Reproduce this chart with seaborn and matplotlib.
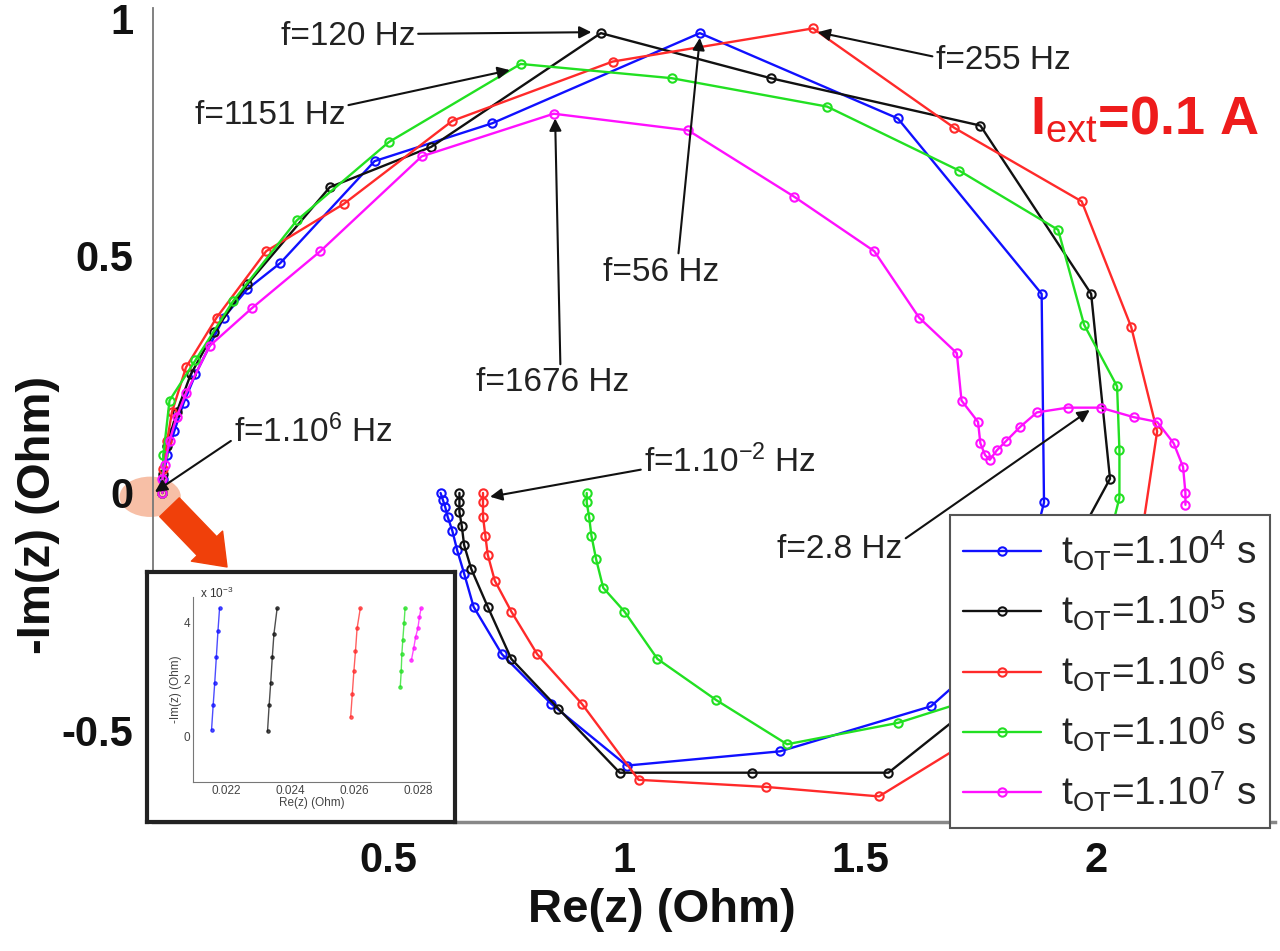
import numpy as np
import pandas as pd
import matplotlib
matplotlib.use("Agg")
import matplotlib.pyplot as plt
from matplotlib.patches import Ellipse
import seaborn as sns

# -----------------------------
# Data (Re, -Im in Ohm), high -> low frequency
# -----------------------------
blue_re = [0.02, 0.022, 0.03, 0.045, 0.065, 0.09, 0.15, 0.20, 0.27, 0.47, 0.72, 1.16, 1.58, 1.885, 1.89,
           1.82, 1.65, 1.33, 1.005, 0.845, 0.74, 0.68, 0.66, 0.645, 0.635, 0.625, 0.62, 0.615, 0.61]
blue_im = [0.0, 0.03, 0.08, 0.13, 0.19, 0.25, 0.37, 0.43, 0.485, 0.70, 0.78, 0.97, 0.79, 0.42, -0.02,
           -0.30, -0.45, -0.545, -0.575, -0.445, -0.34, -0.24, -0.17, -0.12, -0.08, -0.05, -0.03, -0.015, 0.0]

black_re = [0.02, 0.022, 0.03, 0.05, 0.08, 0.13, 0.20, 0.375, 0.59, 0.95, 1.31, 1.755, 1.99, 2.03, 1.97,
            1.80, 1.56, 1.27, 0.99, 0.86, 0.76, 0.71, 0.675, 0.66, 0.655, 0.65, 0.65, 0.65]
black_im = [0.0, 0.04, 0.10, 0.17, 0.25, 0.34, 0.44, 0.645, 0.73, 0.97, 0.875, 0.775, 0.42, 0.03, -0.08,
            -0.40, -0.59, -0.59, -0.59, -0.455, -0.35, -0.24, -0.16, -0.11, -0.07, -0.04, -0.02, 0.0]

red_re = [0.02, 0.022, 0.03, 0.04, 0.07, 0.135, 0.24, 0.405, 0.635, 0.975, 1.40, 1.70, 1.97, 2.075, 2.13,
          2.10, 1.90, 1.54, 1.30, 1.03, 0.91, 0.815, 0.76, 0.725, 0.71, 0.705, 0.70, 0.70, 0.70]
red_im = [0.0, 0.05, 0.11, 0.17, 0.265, 0.37, 0.51, 0.61, 0.785, 0.91, 0.98, 0.77, 0.615, 0.35, 0.13,
          -0.07, -0.42, -0.64, -0.62, -0.605, -0.445, -0.34, -0.25, -0.185, -0.13, -0.09, -0.05, -0.02, 0.0]

green_re = [0.02, 0.022, 0.035, 0.09, 0.17, 0.305, 0.50, 0.78, 1.10, 1.43, 1.71, 1.92, 1.975, 2.045, 2.05,
            2.05, 2.035, 1.85, 1.58, 1.345, 1.195, 1.07, 1.0, 0.955, 0.94, 0.93, 0.925, 0.92, 0.92]
green_im = [0.0, 0.08, 0.195, 0.28, 0.405, 0.575, 0.74, 0.905, 0.875, 0.815, 0.68, 0.555, 0.355, 0.225, 0.09,
            -0.01, -0.07, -0.40, -0.485, -0.53, -0.437, -0.35, -0.25, -0.2, -0.14, -0.09, -0.05, -0.02, 0.0]

mag_re = [0.02, 0.02, 0.025, 0.035, 0.05, 0.07, 0.12, 0.21, 0.355, 0.57, 0.85, 1.135, 1.36, 1.53, 1.625,
          1.705, 1.715, 1.75, 1.755, 1.765, 1.775, 1.79, 1.81, 1.84, 1.875, 1.94, 2.01, 2.08, 2.13,
          2.165, 2.185, 2.19, 2.19]
mag_im = [0.0, 0.03, 0.06, 0.11, 0.16, 0.21, 0.31, 0.39, 0.51, 0.71, 0.80, 0.765, 0.625, 0.51, 0.37,
          0.295, 0.195, 0.15, 0.105, 0.08, 0.07, 0.09, 0.11, 0.14, 0.17, 0.18, 0.18, 0.16, 0.15,
          0.105, 0.055, 0.0, -0.025]

series_labels = [r"t$_{\rm OT}$=1.10$^{\rm 4}$ s", r"t$_{\rm OT}$=1.10$^{\rm 5}$ s",
                 r"t$_{\rm OT}$=1.10$^{\rm 6}$ s", r"t$_{\rm OT}$=1.10$^{\rm 6}$ s",
                 r"t$_{\rm OT}$=1.10$^{\rm 7}$ s"]
series_colors = ["#1010ff", "#111111", "#ff2a2a", "#22e022", "#ff10ff"]

# inset: zoom on the high frequency end
ins_blue_re = [0.02155, 0.0216, 0.02165, 0.0217, 0.02175, 0.0218]
ins_blue_im = [0.00025, 0.0011, 0.0019, 0.0028, 0.0037, 0.0045]
ins_black_re = [0.0233, 0.02335, 0.0234, 0.02345, 0.0235, 0.0236]
ins_black_im = [0.0002, 0.0011, 0.0019, 0.0028, 0.0036, 0.0045]
ins_red_re = [0.0259, 0.02595, 0.026, 0.02605, 0.0261, 0.0262]
ins_red_im = [0.0007, 0.0015, 0.0023, 0.003, 0.0038, 0.0045]
ins_green_re = [0.02745, 0.02748, 0.0275, 0.02753, 0.02757, 0.0276]
ins_green_im = [0.00175, 0.0023, 0.0029, 0.0034, 0.004, 0.0045]
ins_mag_re = [0.0278, 0.02787, 0.02793, 0.028, 0.02805, 0.0281]
ins_mag_im = [0.0027, 0.0031, 0.0035, 0.0038, 0.0042, 0.0045]

xticks = [0.5, 1, 1.5, 2]
xtick_labels = ["0.5", "1", "1.5", "2"]
yticks = [-0.5, 0, 0.5, 1]
ytick_labels = ["-0.5", "0", "0.5", "1"]

# frequency annotations: text, pointed point, text position
ann_text = ["f=120 Hz", "f=1151 Hz", "f=56 Hz", "f=1676 Hz", "f=255 Hz",
            r"f=1.10$^{6}$ Hz", r"f=1.10$^{-2}$ Hz", "f=2.8 Hz"]
ann_xy = [(0.93, 0.972), (0.757, 0.892), (1.16, 0.96), (0.853, 0.79), (1.41, 0.972),
          (0.004, 0.002), (0.715, -0.008), (1.987, 0.175)]
ann_xytext = [(0.413, 0.962), (0.248, 0.797), (1.077, 0.466), (0.848, 0.232), (1.803, 0.913),
              (0.34, 0.129), (1.224, 0.065), (1.457, -0.12)]
ann_relpos = [(1, 0.6), (1, 0.8), (0.65, 1), (0.55, 1), (0, 0.6), (0, 0.3), (0, 0.3), (1, 0.8)]

# -----------------------------
# Style
# -----------------------------
sns.set_theme(style="white")
plt.rcParams['font.family'] = ['Liberation Sans', 'DejaVu Sans']
plt.rcParams['mathtext.fontset'] = 'custom'
plt.rcParams['mathtext.rm'] = 'Liberation Sans'
plt.rcParams['mathtext.it'] = 'Liberation Sans:italic'
plt.rcParams['mathtext.bf'] = 'Liberation Sans:bold'
plt.rcParams['mathtext.default'] = 'regular'

fig = plt.figure(figsize=(12.8, 9.51), dpi=100)
ax = fig.add_axes([153 / 1280, 129 / 951, 1122 / 1280, 814 / 951])

curves = [(blue_re, blue_im), (black_re, black_im), (red_re, red_im),
          (green_re, green_im), (mag_re, mag_im)]
for (re_, im_), col, lab in zip(curves, series_colors, series_labels):
    sns.lineplot(x=re_, y=im_, sort=False, estimator=None, color=col, lw=1.7,
                 marker='o', ms=6, mfc='none', mec=col, mew=1.5, label=lab, ax=ax)

ax.set_xlim(0, 2.38)
ax.set_ylim(-0.694, 1.023)
ax.set_xticks(xticks)
ax.set_xticklabels(xtick_labels, fontsize=30, fontweight='bold')
ax.set_yticks(yticks)
ax.set_yticklabels(ytick_labels, fontsize=30, fontweight='bold')
ax.tick_params(direction='in', length=6, width=1, color='#666', pad=14, labelcolor='#111')
sns.despine(ax=ax)
ax.spines['left'].set_color('#777')
ax.spines['left'].set_linewidth(1.3)
ax.spines['bottom'].set_color('#888')
ax.spines['bottom'].set_linewidth(2.5)
ax.set_xlabel("")
ax.set_ylabel("")

fig.text(662 / 1280, 1 - 910 / 951, "Re(z) (Ohm)", fontsize=34, fontweight='bold',
         ha='center', va='center', color='#111')
fig.text(38 / 1280, 1 - 515 / 951, "-Im(z) (Ohm)", fontsize=34, fontweight='bold',
         ha='center', va='center', rotation=90, color='#111')

# frequency arrows
for txt, xy, xyt, rp in zip(ann_text, ann_xy, ann_xytext, ann_relpos):
    ax.annotate(txt, xy=xy, xytext=xyt, ha='center', va='center', fontsize=24, color='#222',
                arrowprops=dict(arrowstyle='-|>', color='#111', lw=1.5, mutation_scale=18,
                                shrinkA=0, shrinkB=0, relpos=rp), zorder=6)

ax.text(1.86, 0.787, r"I$_{\rm ext}$=0.1 A", fontsize=39, fontweight='bold', color='#ee1c1c',
        ha='left', va='center')

# highlight of the origin and arrow to the inset
ax.add_patch(Ellipse((-0.006, -0.008), 0.13, 0.085, facecolor='#f7bfa6', edgecolor='none',
                     clip_on=False, zorder=0.2))
ax.annotate("", xy=(0.157, -0.156), xytext=(0.035, -0.03),
            arrowprops=dict(arrowstyle="simple,head_length=0.8,head_width=1.2,tail_width=0.75",
                            mutation_scale=26, color='#f0400a', shrinkA=0, shrinkB=0),
            annotation_clip=False)

leg = ax.legend(loc='lower right', bbox_to_anchor=(1270 / 1280, 123 / 951),
                bbox_transform=fig.transFigure, fontsize=28, frameon=True, fancybox=False,
                framealpha=1, edgecolor='#555', handlelength=2.0, handletextpad=0.5,
                labelspacing=0.42, borderpad=0.35, borderaxespad=0)
leg.get_frame().set_linewidth(1.5)
leg.set_zorder(10)

# -----------------------------
# Inset
# -----------------------------
box = fig.add_axes([147 / 1280, 129 / 951, 308 / 1280, 250 / 951])
box.set_xticks([])
box.set_yticks([])
box.set_facecolor('white')
for s in box.spines.values():
    s.set_color('#222')
    s.set_linewidth(3)
    s.set_visible(True)

ins = fig.add_axes([193 / 1280, 169 / 951, 237 / 1280, 185 / 951])
ins.set_facecolor('none')
ins_curves = [(ins_blue_re, ins_blue_im), (ins_black_re, ins_black_im), (ins_red_re, ins_red_im),
              (ins_green_re, ins_green_im), (ins_mag_re, ins_mag_im)]
for (re_, im_), col in zip(ins_curves, series_colors):
    sns.lineplot(x=re_, y=im_, sort=False, estimator=None, color=col, lw=1.0, alpha=0.75,
                 marker='o', ms=2.5, mec=col, mfc=col, ax=ins)
ins.set_xlim(0.02097, 0.02838)
ins.set_ylim(-0.00158, 0.0049)
ins.set_xticks([0.022, 0.024, 0.026, 0.028])
ins.set_xticklabels(["0.022", "0.024", "0.026", "0.028"], fontsize=8.5)
ins.set_yticks([0, 0.002, 0.004])
ins.set_yticklabels(["0", "2", "4"], fontsize=8.5)
ins.tick_params(direction='in', length=2, pad=2, labelcolor='#444', color='#888')
sns.despine(ax=ins)
for s in ['left', 'bottom']:
    ins.spines[s].set_color('#777')
    ins.spines[s].set_linewidth(0.8)
ins.set_xlabel("Re(z) (Ohm)", fontsize=8.5, labelpad=0, color='#444')
ins.set_ylabel("-Im(z) (Ohm)", fontsize=8.5, labelpad=1, color='#444')
ins.text(0.0212, 0.00475, r"x 10$^{-3}$", fontsize=8.5, color='#333', va='bottom')

fig.savefig("out.png", dpi=100)
